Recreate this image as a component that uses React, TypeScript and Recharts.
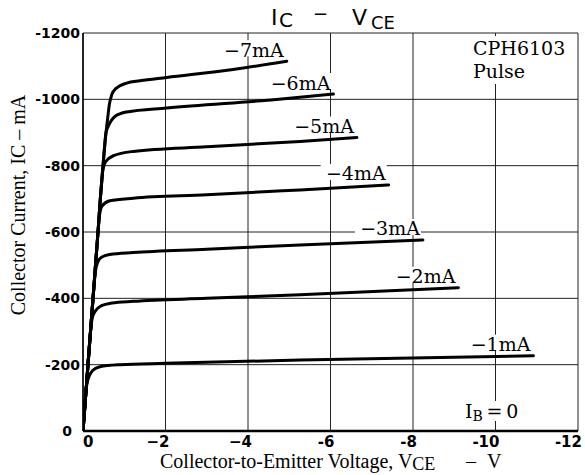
import React from 'react';
import { LineChart, Line, XAxis, YAxis, CartesianGrid } from 'recharts';

// Tick values and labels
const vTicks = [0, -2, -4, -6, -8, -10, -12];
const vTickLabels = ['0', '\u22122', '\u22124', '-6', '-8', '-10', '-12'];
const iTicks = [0, -200, -400, -600, -800, -1000, -1200];
const iTickLabels = ['0', '-200', '-400', '-600', '-800', '-1000', '-1200'];

// Base current curves: [VCE (V), IC (mA)]
const curve1mA: [number, number][] = [
  [0, 0], [-0.03, -60], [-0.06, -110], [-0.1, -145], [-0.16, -168], [-0.24, -183],
  [-0.41, -194], [-0.9, -200], [-2, -204], [-5.26, -214], [-10.92, -227],
];
const curve2mA: [number, number][] = [
  [0, 0], [-0.061, -100], [-0.121, -200], [-0.182, -300], [-0.22, -338], [-0.3, -362],
  [-0.45, -378], [-0.7, -386], [-1.22, -391], [-3, -400], [-5.26, -411], [-9.1, -432],
];
const curve3mA: [number, number][] = [
  [0, 0], [-0.061, -100], [-0.121, -200], [-0.182, -300], [-0.243, -400], [-0.3, -480],
  [-0.36, -510], [-0.45, -524], [-0.65, -532], [-1.22, -538], [-3, -548], [-5.26, -561], [-8.24, -576],
];
const curve4mA: [number, number][] = [
  [0, 0], [-0.061, -100], [-0.121, -200], [-0.182, -300], [-0.243, -400], [-0.303, -500],
  [-0.364, -600], [-0.4, -650], [-0.46, -678], [-0.65, -694], [-1.22, -702], [-3, -712],
  [-5.26, -727], [-7.41, -742],
];
const curve5mA: [number, number][] = [
  [0, 0], [-0.061, -100], [-0.121, -200], [-0.182, -300], [-0.243, -400], [-0.303, -500],
  [-0.364, -600], [-0.42, -700], [-0.485, -790], [-0.55, -812], [-0.74, -830], [-1.22, -843],
  [-3, -857], [-5.26, -873], [-6.64, -885],
];
const curve6mA: [number, number][] = [
  [0, 0], [-0.061, -100], [-0.121, -200], [-0.182, -300], [-0.243, -400], [-0.303, -500],
  [-0.364, -600], [-0.42, -700], [-0.485, -800], [-0.558, -900], [-0.61, -918], [-0.78, -949],
  [-1.06, -962], [-2.03, -974], [-4.75, -1000], [-6.07, -1016],
];
const curve7mA: [number, number][] = [
  [0, 0], [-0.061, -100], [-0.121, -200], [-0.182, -300], [-0.243, -400], [-0.303, -500],
  [-0.364, -600], [-0.42, -700], [-0.485, -800], [-0.558, -900], [-0.6, -945], [-0.64, -985],
  [-0.7, -1015], [-0.8, -1033], [-1.06, -1049], [-1.38, -1056], [-2.03, -1066], [-3.64, -1090],
  [-4.94, -1115],
];

const curveNames = ['\u22121mA', '\u22122mA', '\u22123mA', '\u22124mA', '\u22125mA', '\u22126mA', '\u22127mA'];
const curves = [curve1mA, curve2mA, curve3mA, curve4mA, curve5mA, curve6mA, curve7mA];

const toRows = (c: [number, number][]) => c.map(([v, i]) => ({ v, i }));

const serif = '"DejaVu Serif", serif';
const tnr = '"Liberation Serif", "Times New Roman", serif';
const sans = '"DejaVu Sans", sans-serif';

const makeLabel = (text: string, last: number) => (props: any) => {
  if (props.index !== last) return <g />;
  const x = Number(props.x);
  const y = Number(props.y);
  return (
    <g>
      <rect x={x - 68} y={y - 21} width={66} height={16} fill="#fff" />
      <text x={x - 3} y={y - 4.5} textAnchor="end" fontFamily={serif} fontSize={19} fill="#000">
        {text}
      </text>
    </g>
  );
};

const XTick = (props: any) => {
  const { x, y, payload } = props;
  const idx = vTicks.indexOf(payload.value);
  const label = vTickLabels[idx];
  const isZero = payload.value === 0;
  return (
    <text
      x={isZero ? x : x + 4}
      y={y + 16}
      textAnchor={isZero ? 'start' : 'end'}
      fontFamily={sans}
      fontWeight="bold"
      fontSize={15}
      fill="#000"
    >
      {label}
    </text>
  );
};

const YTick = (props: any) => {
  const { x, y, payload } = props;
  const idx = iTicks.indexOf(payload.value);
  const label = iTickLabels[idx];
  const isZero = payload.value === 0;
  return (
    <text
      x={isZero ? x - 11 : x - 3}
      y={y + 5}
      textAnchor="end"
      fontFamily={sans}
      fontWeight="bold"
      fontSize={14}
      fill="#000"
    >
      {label}
    </text>
  );
};

export default function App() {
  return (
    <div style={{ position: 'absolute', left: 0, top: 0, width: 585, height: 475, background: '#fff' }}>
      <LineChart width={585} height={475} margin={{ top: 33, right: 7, bottom: 0, left: 0 }}>
        <CartesianGrid stroke="#222" strokeWidth={1} />
        <XAxis
          type="number"
          dataKey="v"
          domain={[-12, 0]}
          reversed
          ticks={vTicks}
          interval={0}
          allowDataOverflow
          tickLine={false}
          tickSize={0}
          tickMargin={0}
          height={44}
          axisLine={{ stroke: '#000', strokeWidth: 2.5 }}
          tick={<XTick />}
        />
        <YAxis
          type="number"
          dataKey="i"
          domain={[-1200, 0]}
          reversed
          ticks={iTicks}
          interval={0}
          allowDataOverflow
          tickLine={false}
          tickSize={0}
          tickMargin={0}
          width={83}
          axisLine={{ stroke: '#000', strokeWidth: 1.5 }}
          tick={<YTick />}
        />
        {curves.map((c, k) => (
          <Line
            key={curveNames[k]}
            data={toRows(c)}
            dataKey="i"
            type="monotone"
            stroke="#000"
            strokeWidth={3}
            strokeLinecap="round"
            dot={false}
            isAnimationActive={false}
            label={makeLabel(curveNames[k], c.length - 1)}
          />
        ))}
      </LineChart>
      <svg
        width={585}
        height={475}
        style={{ position: 'absolute', left: 0, top: 0, pointerEvents: 'none' }}
      >
        {/* Title */}
        <text x={271} y={25} fontFamily={sans} fontSize={22} fill="#000">I</text>
        <text x={279} y={27} fontFamily={sans} fontSize={20} fill="#000">C</text>
        <text x={313} y={20} fontFamily={sans} fontSize={18} fill="#000">{'\u2212'}</text>
        <text x={352} y={25} fontFamily={sans} fontSize={22} fill="#000">V</text>
        <text x={371} y={29} fontFamily={sans} fontSize={18} fill="#000">CE</text>

        {/* Device label */}
        <rect x={468} y={36} width={104} height={48} fill="#fff" />
        <text x={473} y={55} fontFamily={serif} fontSize={19} fill="#000">CPH6103</text>
        <text x={473} y={78} fontFamily={serif} fontSize={19} fill="#000">Pulse</text>

        {/* IB = 0 */}
        <rect x={462} y={401} width={66} height={20} fill="#fff" />
        <text x={465} y={418} fontFamily={serif} fontSize={19} fill="#000">
          I
          <tspan fontSize={14} dy={3}>B</tspan>
          <tspan dy={-3}>{'\u2009=\u20090'}</tspan>
        </text>

        {/* Axis labels */}
        <text x={160} y={468} fontFamily={tnr} fontSize={20} fill="#000">
          {'Collector-to-Emitter Voltage, V'}
          <tspan dy={2} fontSize={18}>CE</tspan>
          <tspan dy={-2} x={466}>{'\u2013'}</tspan>
          <tspan x={487}>V</tspan>
        </text>
        <text
          transform="translate(25,205) rotate(-90)"
          textAnchor="middle"
          fontFamily={tnr}
          fontSize={20}
          fill="#000"
        >
          {'Collector Current, I'}
          <tspan dy={0}>C</tspan>
          {'  \u2013  mA'}
        </text>
      </svg>
    </div>
  );
}
